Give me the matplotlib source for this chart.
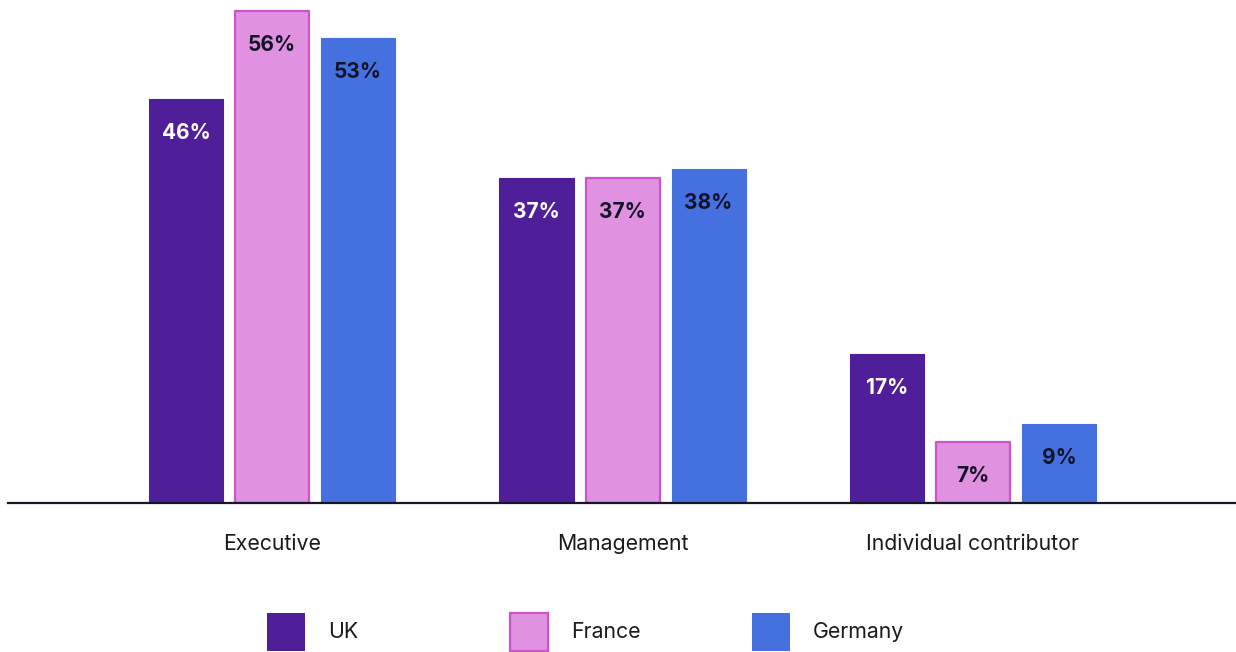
import matplotlib
matplotlib.use("Agg")
import matplotlib.pyplot as plt
from matplotlib.patches import Rectangle
import numpy as np

plt.rcParams['font.family'] = ['Inter', 'DejaVu Sans']

categories = ["Executive", "Management", "Individual contributor"]
series_names = ["UK", "France", "Germany"]
uk = [46, 37, 17]
france = [56, 37, 7]
germany = [53, 38, 9]
values = [uk, france, germany]

fills = ["#4F1F9A", "#E091E0", "#4571E0"]
edges = ["#4F1F9A", "#CC55CC", "#4571E0"]
label_colors = ["white", "#121228", "#121228"]

W, H = 1236, 652
fig = plt.figure(figsize=(W / 100, H / 100), dpi=100)
ax_left, ax_right = 8, 1236
ax_bottom_px = 503
ax = fig.add_axes([ax_left / W, (H - ax_bottom_px) / H, (ax_right - ax_left) / W, ax_bottom_px / H])

px_per_unit = 350.5
center0 = 272
ax.set_xlim(-(center0 - ax_left) / px_per_unit, (ax_right - center0) / px_per_unit)
px_per_pct = 8.78
ax.set_ylim(0, ax_bottom_px / px_per_pct)

x = np.arange(len(categories))
bw = 74 / px_per_unit
step = 86 / px_per_unit
label_off = 34 / px_per_pct

for i, (name, vals) in enumerate(zip(series_names, values)):
    pos = x + (i - 1) * step
    lw = 1.6 if i == 1 else 0.8
    ax.bar(pos, vals, width=bw, color=fills[i], edgecolor=edges[i], linewidth=lw, zorder=2, joinstyle='round')
    for xp, v in zip(pos, vals):
        ax.text(xp, v - label_off, f"{v}%", ha='center', va='center', fontsize=15,
                fontweight='bold', color=label_colors[i], zorder=3)

for s in ['top', 'right', 'left']:
    ax.spines[s].set_visible(False)
ax.spines['bottom'].set_linewidth(1.6)
ax.spines['bottom'].set_color('#161625')
ax.set_yticks([])
ax.set_xticks(x)
ax.set_xticklabels(categories, fontsize=15.3, color='#1a1a1a')
ax.tick_params(axis='x', length=0, pad=22)

# legend drawn in figure pixel coordinates
leg_x = [267, 510, 752]
sq = 38
for i, name in enumerate(series_names):
    lw = 1.6 if i == 1 else 0
    r = Rectangle((leg_x[i] / W, (H - 651) / H), sq / W, sq / H, transform=fig.transFigure,
                  facecolor=fills[i], edgecolor=edges[i], linewidth=lw)
    fig.patches.append(r)
    fig.text((leg_x[i] + sq + 23) / W, (H - 632) / H, name, fontsize=15.3, va='center',
             ha='left', color='#1a1a1a')

fig.savefig("out.png", dpi=100)
